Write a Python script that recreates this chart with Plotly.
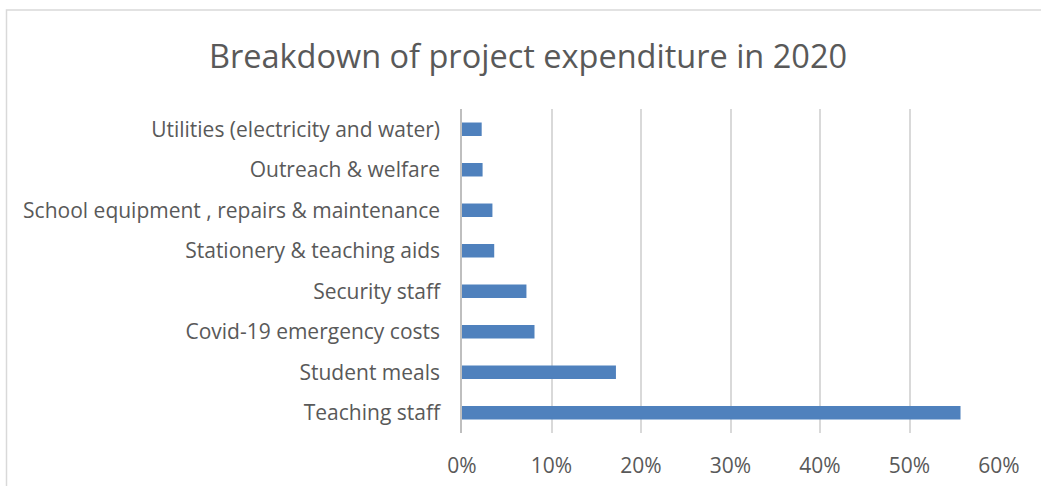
import plotly.graph_objects as go

# Share of total 2020 project spending by cost line (bottom to top)
categories = [
    "Teaching staff",
    "Student meals",
    "Covid-19 emergency costs",
    "Security staff",
    "Stationery & teaching aids",
    "School equipment , repairs & maintenance",
    "Outreach & welfare",
    "Utilities (electricity and water)",
]
shares = [0.557, 0.172, 0.081, 0.072, 0.036, 0.034, 0.023, 0.022]

x_ticks = [0, 0.1, 0.2, 0.3, 0.4, 0.5, 0.6]
x_tick_labels = ["0%", "10%", "20%", "30%", "40%", "50%", "60%"]

FONT = "Open Sans"
TEXT = "#595959"
GRID = "#d9d9d9"

fig = go.Figure(
    go.Bar(
        y=categories,
        x=shares,
        orientation="h",
        marker=dict(color="#4F81BD", line=dict(width=0)),
        hoverinfo="x+y",
    )
)

fig.update_layout(
    template="none",
    width=1041,
    height=486,
    margin=dict(l=462, r=42, t=109, b=53, autoexpand=False),
    paper_bgcolor="white",
    plot_bgcolor="white",
    bargap=0.667,
    showlegend=False,
    title=dict(
        text="Breakdown of project expenditure in 2020",
        x=528 / 1041,
        xanchor="center",
        y=1 - 56.5 / 486,
        yanchor="middle",
        font=dict(family=FONT, size=32.5, color=TEXT),
    ),
    font=dict(family=FONT, color=TEXT),
    shapes=[
        dict(
            type="rect",
            xref="paper",
            yref="paper",
            x0=(6.5 - 462) / 537,
            x1=(1060 - 462) / 537,
            y0=(433 - 500) / 324,
            y1=(433 - 10) / 324,
            line=dict(color="#d9d9d9", width=1.5),
            fillcolor="rgba(0,0,0,0)",
            layer="below",
        )
    ],
)

fig.update_xaxes(
    range=[0, 0.6],
    tickvals=x_ticks,
    ticktext=x_tick_labels,
    showgrid=True,
    gridcolor=GRID,
    gridwidth=1.5,
    zeroline=False,
    showline=False,
    ticks="",
    automargin=False,
    ticklabelstandoff=18,
    tickfont=dict(family=FONT, size=21, color=TEXT),
    fixedrange=True,
)

fig.update_yaxes(
    categoryorder="array",
    categoryarray=categories,
    showgrid=False,
    zeroline=False,
    showline=True,
    linecolor="#bfbfbf",
    linewidth=1.5,
    ticks="",
    automargin=False,
    ticklabelstandoff=16,
    tickfont=dict(family=FONT, size=21, color=TEXT),
    fixedrange=True,
)

fig.write_html("out.html")
